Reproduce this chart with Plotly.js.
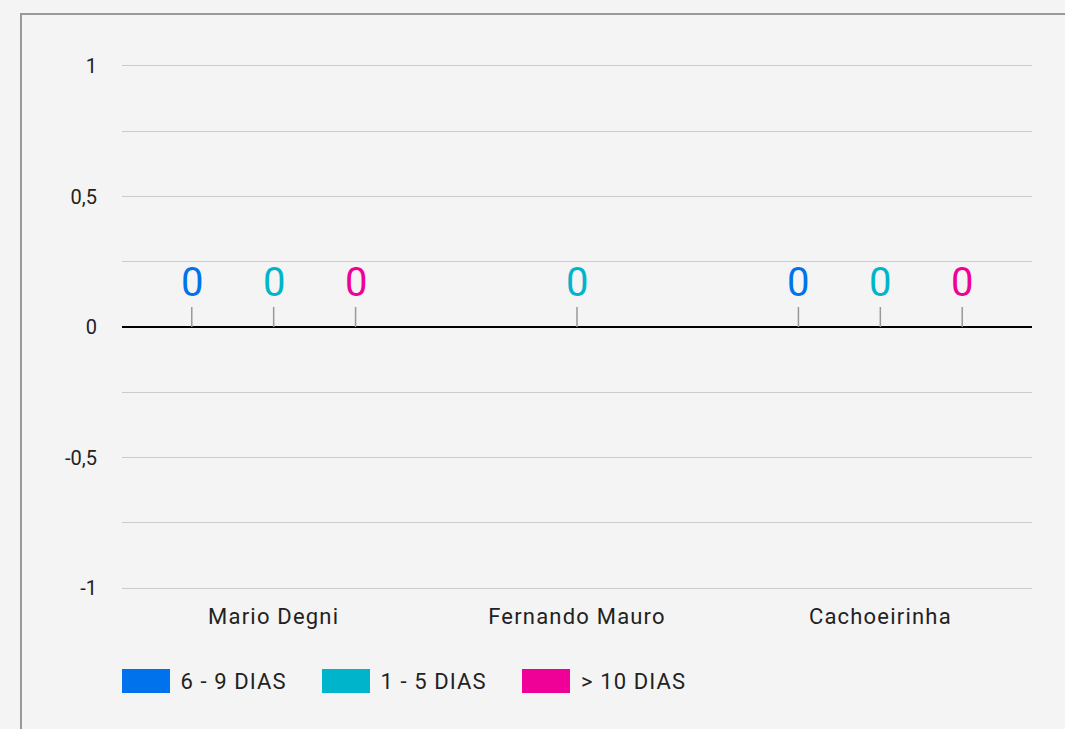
<!DOCTYPE html>
<html><head><meta charset="utf-8">
<script src="https://cdn.plot.ly/plotly-3.0.1.min.js"></script>
<style>
html,body{margin:0;padding:0;background:#f4f4f4;width:1065px;height:729px;overflow:hidden;}
#frame{position:absolute;left:20px;top:13px;width:1200px;height:900px;border:2px solid #999;box-sizing:border-box;}
#chart{position:absolute;left:0;top:0;width:1065px;height:729px;}
#chart .xtick text{letter-spacing:1.2px;}
</style></head>
<body>
<div id="frame"></div>
<div id="chart"></div>
<script>
const categories = ["Mario Degni", "Fernando Mauro", "Cachoeirinha"];
const seriesNames = ["6 - 9 DIAS", "1 - 5 DIAS", "> 10 DIAS"];
const seriesColors = ["#0073ec", "#00b5cb", "#ef0097"];
const values69 = [0, null, 0];
const values15 = [0, 0, 0];
const values10 = [0, null, 0];
const allValues = [values69, values15, values10];
const yTicks = [-1, -0.5, 0, 0.5, 1];

const bargap = 0.19;
const slot = (1 - bargap) / allValues.length;

const traces = allValues.map((vals, si) => ({
  type: 'bar', x: categories, y: vals, name: seriesNames[si],
  marker: {color: seriesColors[si]}, showlegend: false, hoverinfo: 'skip'
}));

const annotations = [];
allValues.forEach((vals, si) => {
  const off = (si - (allValues.length - 1) / 2) * slot;
  vals.forEach((v, ci) => {
    if (v === null) return;
    annotations.push({
      x: ci + off, y: v, xref: 'x', yref: 'y', text: String(v),
      showarrow: true, arrowhead: 0, arrowwidth: 1.5, arrowcolor: '#999999',
      ax: 0, ay: -45, standoff: 0,
      font: {family: 'Roboto', size: 40, color: seriesColors[si]}
    });
  });
});

// custom legend
const shapes = [];
const legX = [122, 322, 522];
seriesNames.forEach((n, si) => {
  shapes.push({type: 'rect', xref: 'paper', yref: 'paper',
    x0: (legX[si] - 122) / 910, x1: (legX[si] + 48 - 122) / 910,
    y0: (729 - 141 - 693) / 522, y1: (729 - 141 - 669) / 522,
    fillcolor: seriesColors[si], line: {width: 0}});
  annotations.push({xref: 'paper', yref: 'paper',
    x: (legX[si] + 62 - 122) / 910, y: (729 - 141 - 681) / 522,
    xanchor: 'left', yanchor: 'middle', showarrow: false, text: n,
    font: {family: 'Roboto', size: 22, color: '#222222'}});
});

const layout = {
  width: 1065, height: 729,
  margin: {l: 122, r: 33, t: 66, b: 141},
  paper_bgcolor: 'rgba(0,0,0,0)', plot_bgcolor: 'rgba(0,0,0,0)',
  barmode: 'group', bargap: bargap, bargroupgap: 0,
  separators: ',.',
  font: {family: 'Roboto', size: 20, color: '#222222'},
  showlegend: false,
  xaxis: {type: 'category', showgrid: false, showline: true, mirror: true,
    linecolor: '#cccccc', linewidth: 1, zeroline: false,
    ticks: '', ticklabelstandoff: 9, tickfont: {family: 'Roboto', size: 22, color: '#222222'}},
  yaxis: {range: [-1, 1], tickvals: yTicks, ticktext: yTicks.map(v => String(v).replace('.', ',')),
    showgrid: true, gridcolor: '#cccccc', gridwidth: 1,
    minor: {dtick: 0.25, showgrid: true, gridcolor: '#cccccc', gridwidth: 1},
    zeroline: true, zerolinecolor: '#000000', zerolinewidth: 2,
    ticks: '', ticklabelstandoff: 24, tickfont: {family: 'Roboto', size: 20, color: '#222222'}},
  annotations: annotations, shapes: shapes
};
Plotly.newPlot('chart', traces, layout, {displayModeBar: false, staticPlot: true}).then(() => {
  document.querySelectorAll('#chart .annotation-text').forEach(t => {
    if (/DIAS/.test(t.textContent)) t.style.letterSpacing = '1.1px';
  });
});
</script>
</body></html>
